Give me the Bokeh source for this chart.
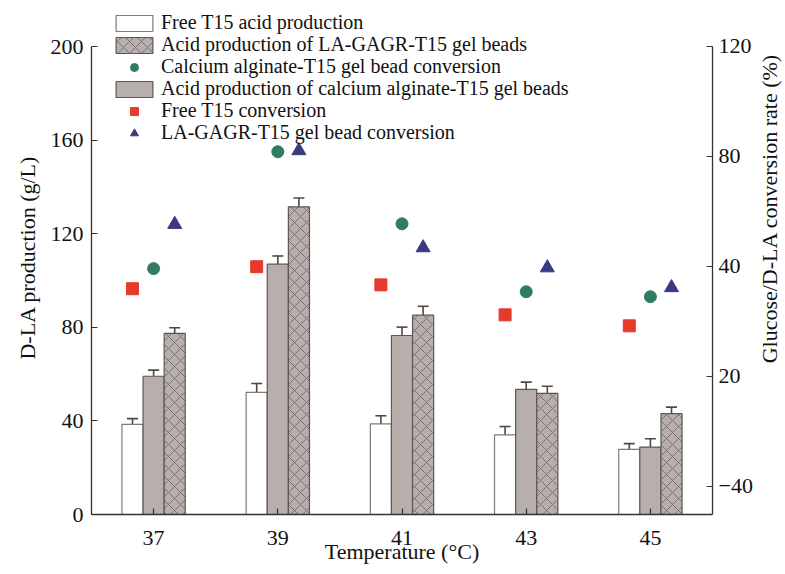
import math
from bokeh.plotting import figure
from bokeh.layouts import row
from bokeh.models import (ColumnDataSource, Range1d, LinearAxis, FixedTicker,
                          Whisker, TeeHead, Legend, LegendItem, Label)
from bokeh.transform import dodge
from bokeh.embed import file_html
from bokeh.resources import INLINE

# ---- data ----
temps = [37, 39, 41, 43, 45]
free_prod = [38.5, 52.2, 38.7, 34.0, 27.8]
free_err = [2.5, 3.8, 3.5, 3.6, 2.5]
ca_prod = [59.1, 107.0, 76.5, 53.5, 28.8]
ca_err = [2.6, 3.5, 3.6, 3.1, 3.6]
la_prod = [77.4, 131.5, 85.2, 51.8, 43.1]
la_err = [2.4, 3.8, 3.8, 3.0, 2.8]
free_conv = [31.9, 39.9, 33.3, 22.4, 18.4]
ca_conv = [39.2, 81.7, 55.5, 30.8, 29.0]
la_conv = [55.3, 82.1, 46.8, 39.5, 32.3]
left_ticks = [0, 40, 80, 120, 160, 200]
right_ticks = [-40, 0, 40, 80, 120]
right_labels = {-40: "\u221240", 0: "20", 40: "40", 80: "80", 120: "120"}
legend_labels = ["Free T15 acid production",
                 "Acid production of LA-GAGR-T15 gel beads",
                 "Calcium alginate-T15 gel bead conversion",
                 "Acid production of calcium alginate-T15 gel beads",
                 "Free T15 conversion",
                 "LA-GAGR-T15 gel bead conversion"]

FONT = "Liberation Serif"
GRAY = "#b6afab"
EDGE = "#5e5754"
ERR = "#4f4845"

src = ColumnDataSource(dict(
    temp=temps,
    free=free_prod, free_up=[v + e for v, e in zip(free_prod, free_err)],
    free_lo=[v - e for v, e in zip(free_prod, free_err)],
    ca=ca_prod, ca_up=[v + e for v, e in zip(ca_prod, ca_err)],
    ca_lo=[v - e for v, e in zip(ca_prod, ca_err)],
    la=la_prod, la_up=[v + e for v, e in zip(la_prod, la_err)],
    la_lo=[v - e for v, e in zip(la_prod, la_err)],
    free_conv=free_conv, ca_conv=ca_conv, la_conv=la_conv,
))

p = figure(width=755, height=574, x_range=Range1d(36, 46), y_range=Range1d(0, 219.7),
           output_backend="svg", toolbar_location=None,
           min_border_left=91, min_border_right=42, min_border_top=0, min_border_bottom=60)
p.extra_y_ranges = {"rate": Range1d(-50.2, 136.7)}
p.xgrid.visible = False
p.ygrid.visible = False
p.outline_line_color = None
p.background_fill_color = "white"
p.border_fill_color = "white"

OFF = 0.34
W = 0.34
r_free = p.vbar(x=dodge("temp", -OFF), top="free", width=W, source=src,
                fill_color="white", line_color="#7f7976", line_width=1.2)
r_ca = p.vbar(x=dodge("temp", 0.0), top="ca", width=W, source=src,
              fill_color=GRAY, line_color=EDGE, line_width=1.2)
r_la = p.vbar(x=dodge("temp", OFF), top="la", width=W, source=src,
              fill_color=GRAY, line_color=EDGE, line_width=1.2,
              hatch_pattern="x", hatch_color="#736b68", hatch_scale=12, hatch_weight=0.9)

for xoff, up, lo in [(-OFF, "free_up", "free_lo"), (0.0, "ca_up", "ca_lo"), (OFF, "la_up", "la_lo")]:
    w = Whisker(base=dodge("temp", xoff), upper=up, lower=lo, source=src,
                line_color=ERR, line_width=1.6,
                upper_head=TeeHead(size=11, line_color=ERR, line_width=1.6),
                lower_head=TeeHead(size=11, line_color=ERR, line_width=1.6))
    p.add_layout(w)

r_fc = p.scatter(x=dodge("temp", -OFF), y="free_conv", source=src, y_range_name="rate",
                 marker="square", size=12, fill_color="#e63a2c", line_color="#e63a2c")
r_cc = p.scatter(x=dodge("temp", 0.0), y="ca_conv", source=src, y_range_name="rate",
                 marker="circle", size=12, fill_color="#2f7b63", line_color="#2f7b63")
r_lc = p.scatter(x=dodge("temp", OFF), y="la_conv", source=src, y_range_name="rate",
                 marker="triangle", size=14, fill_color="#393a82", line_color="#393a82")

def style_axis(ax):
    ax.axis_line_color = "#333333"
    ax.axis_line_width = 1.3
    ax.major_tick_line_color = "#333333"
    ax.major_tick_line_width = 1.2
    ax.major_tick_in = 6
    ax.major_tick_out = 0
    ax.minor_tick_line_color = None
    ax.major_label_text_font = FONT
    ax.major_label_text_font_size = "22px"
    ax.major_label_text_color = "#111111"
    ax.axis_label_text_font = FONT
    ax.axis_label_text_font_size = "22px"
    ax.axis_label_text_font_style = "normal"
    ax.axis_label_text_color = "#111111"

xa = p.xaxis[0]
xa.ticker = FixedTicker(ticks=temps)
xa.axis_label = "Temperature (\u00b0C)"
style_axis(xa)
xa.major_label_standoff = 16
xa.axis_label_standoff = -9

ya = p.yaxis[0]
ya.ticker = FixedTicker(ticks=left_ticks)
ya.axis_label = "D-LA production (g/L)"
style_axis(ya)
ya.major_label_standoff = 8
ya.axis_label_standoff = 8
ya.bounds = (0, 200)

ra = LinearAxis(y_range_name="rate", ticker=FixedTicker(ticks=right_ticks))
ra.major_label_overrides = right_labels
style_axis(ra)
ra.major_label_standoff = 6
ra.bounds = (-50.2, 120)
p.add_layout(ra, "right")

# one single-row legend per entry so the rows sit at the reference's spacing
renderers = [r_free, r_la, r_cc, r_ca, r_fc, r_lc]
row_bottoms = [480, 458, 436, 414, 392, 370]
for lab, rend, yb in zip(legend_labels, renderers, row_bottoms):
    lg = Legend(items=[LegendItem(label=lab, renderers=[rend])], location=(20, yb))
    lg.padding = 0
    lg.margin = 0
    lg.spacing = 0
    lg.border_line_color = None
    lg.background_fill_alpha = 0
    lg.label_text_font = FONT
    lg.label_text_font_size = "20px"
    lg.label_text_color = "#111111"
    lg.glyph_width = 46
    lg.glyph_height = 20
    lg.label_height = 20
    lg.label_standoff = 4
    p.add_layout(lg)

# narrow panel carrying the right-hand axis title, reading bottom to top
pr = figure(width=30, height=574, x_range=Range1d(0, 1), y_range=Range1d(0, 1),
            output_backend="svg", toolbar_location=None,
            x_axis_location=None, y_axis_location=None,
            min_border_left=0, min_border_right=0, min_border_top=0, min_border_bottom=0)
pr.xgrid.visible = False
pr.ygrid.visible = False
pr.outline_line_color = None
pr.background_fill_color = "white"
pr.border_fill_color = "white"
pr.add_layout(Label(x=14, y=306, x_units="screen", y_units="screen",
                    text="Glucose/D-LA conversion rate (%)", angle=math.pi / 2,
                    text_align="center", text_baseline="middle",
                    text_font=FONT, text_font_size="22px", text_color="#111111"))

layout = row(p, pr, spacing=0)
open("out.html", "w").write(file_html(layout, INLINE))
